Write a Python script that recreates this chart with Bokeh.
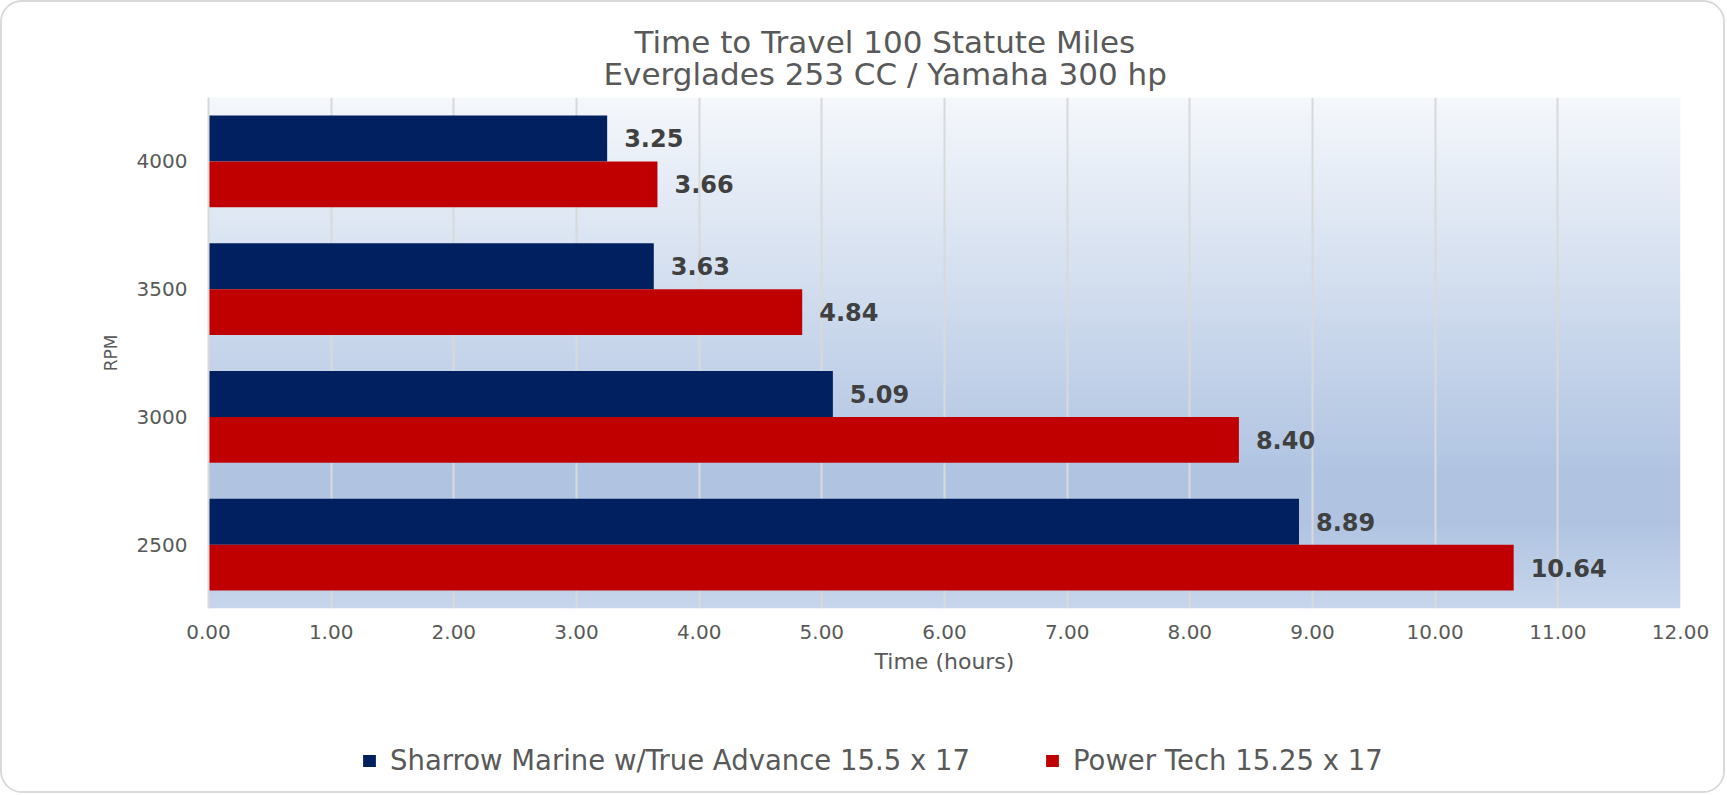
import numpy as np
from bokeh.plotting import figure
from bokeh.layouts import column
from bokeh.models import (ColumnDataSource, LabelSet, Title, Legend, LegendItem,
                          FixedTicker, NumeralTickFormatter, Range1d)
from bokeh.core.properties import value
from bokeh.embed import file_html
from bokeh.resources import INLINE

# ---- data ----
rpm = ["2500", "3000", "3500", "4000"]
sharrow = [8.89, 5.09, 3.63, 3.25]
powertech = [10.64, 8.40, 4.84, 3.66]
series_names = ["Sharrow Marine w/True Advance 15.5 x 17", "Power Tech 15.25 x 17"]
x_ticks = [0, 1, 2, 3, 4, 5, 6, 7, 8, 9, 10, 11, 12]
title_lines = ["Time to Travel 100 Statute Miles", "Everglades 253 CC / Yamaha 300 hp"]

NAVY = "#002060"
RED = "#C00000"
FONT = "DejaVu Sans"
GREY_TXT = "#595959"

W = 1721
H1, H2 = 700, 89
ML, MR, MT = 206, 43, 95
MB = H1 - MT - 511

x0, x1 = 0, 12
y0, y1 = -0.5, len(rpm) - 0.5

p = figure(width=W, height=H1, output_backend="svg", toolbar_location=None,
           x_range=Range1d(x0, x1), y_range=Range1d(y0, y1),
           min_border_left=ML, min_border_right=MR, min_border_top=MT, min_border_bottom=MB)
p.background_fill_color = None
p.border_fill_color = "white"
p.outline_line_color = None

# gradient background of the plot area
stops = [(0.0, (245, 248, 252)), (0.74, (176, 196, 226)), (0.83, (176, 196, 226)), (1.0, (199, 214, 236))]
n = 512
t = np.linspace(1.0, 0.0, n)  # row 0 is bottom
img = np.zeros((n, 1), dtype=np.uint32)
view = img.view(dtype=np.uint8).reshape((n, 1, 4))
sp = [s[0] for s in stops]
for c in range(3):
    view[:, 0, c] = np.interp(t, sp, [s[1][c] for s in stops]).astype(np.uint8)
view[:, 0, 3] = 255
p.image_rgba(image=[img], x=x0, y=y0, dw=x1 - x0, dh=y1 - y0, level="image")

bar_h = 0.3585
idx = np.arange(len(rpm))
src = ColumnDataSource(dict(
    y_s=idx + bar_h / 2, y_p=idx - bar_h / 2,
    sharrow=sharrow, powertech=powertech,
    lab_s=[f"{v:.2f}" for v in sharrow], lab_p=[f"{v:.2f}" for v in powertech],
))
p.hbar(y="y_s", right="sharrow", left=0, height=bar_h, source=src,
       fill_color=NAVY, line_color=None)
p.hbar(y="y_p", right="powertech", left=0, height=bar_h, source=src,
       fill_color=RED, line_color=None)

for ycol, xcol, lcol in [("y_s", "sharrow", "lab_s"), ("y_p", "powertech", "lab_p")]:
    p.add_layout(LabelSet(x=xcol, y=ycol, text=lcol, source=src, x_offset=17,
                          text_baseline="middle", text_align="left",
                          text_font=value(FONT), text_font_style="bold",
                          text_font_size="24px", text_color="#404040"))

# grid
p.ygrid.grid_line_color = None
p.xgrid.grid_line_color = "#d9d9d9"
p.xgrid.grid_line_width = 2
p.xgrid.ticker = FixedTicker(ticks=x_ticks)

# x axis
xa = p.xaxis[0]
xa.ticker = FixedTicker(ticks=x_ticks)
xa.formatter = NumeralTickFormatter(format="0.00")
xa.axis_line_color = None
xa.major_tick_line_color = None
xa.minor_tick_line_color = None
xa.major_tick_out = 0
xa.major_label_standoff = 16
xa.major_label_text_font = FONT
xa.major_label_text_font_size = "20px"
xa.major_label_text_color = GREY_TXT
xa.axis_label = "Time (hours)"
xa.axis_label_text_font = FONT
xa.axis_label_text_font_size = "22px"
xa.axis_label_text_font_style = "normal"
xa.axis_label_text_color = GREY_TXT
xa.axis_label_standoff = 7

# y axis
ya = p.yaxis[0]
ya.ticker = FixedTicker(ticks=list(idx))
ya.major_label_overrides = {int(i): r for i, r in zip(idx, rpm)}
ya.axis_line_color = "#d9d9d9"
ya.axis_line_width = 2
ya.major_tick_line_color = None
ya.minor_tick_line_color = None
ya.major_tick_out = 0
ya.major_label_standoff = 21
ya.major_label_text_font = FONT
ya.major_label_text_font_size = "20px"
ya.major_label_text_color = GREY_TXT
ya.axis_label = "RPM"
ya.axis_label_text_font = FONT
ya.axis_label_text_font_size = "17px"
ya.axis_label_text_font_style = "normal"
ya.axis_label_text_color = GREY_TXT
ya.axis_label_standoff = 13

# titles (second line is added first: it sits nearest to the plot area)
for line, off, so in [(title_lines[1], 395, 9), (title_lines[0], 426, -20)]:
    p.add_layout(Title(text=line, align="left", offset=off, vertical_align="middle",
                       standoff=so, text_font=FONT, text_font_size="31px",
                       text_font_style="normal", text_color=GREY_TXT), "above")

# legend strip (same bars as hidden renderers; only their legend entries show)
p2 = figure(width=W, height=H2, output_backend="svg", toolbar_location=None,
            x_axis_type=None, y_axis_type=None,
            x_range=Range1d(x0, x1), y_range=Range1d(y0, y1),
            min_border_left=ML, min_border_right=MR, min_border_top=0, min_border_bottom=0)
p2.background_fill_color = None
p2.border_fill_color = "white"
p2.outline_line_color = None
k1 = p2.hbar(y="y_s", right="sharrow", left=0, height=bar_h, source=src,
             fill_color=NAVY, line_color=None, visible=False)
k2 = p2.hbar(y="y_p", right="powertech", left=0, height=bar_h, source=src,
             fill_color=RED, line_color=None, visible=False)
legend = Legend(items=[LegendItem(label=series_names[0], renderers=[k1]),
                       LegendItem(label=series_names[1], renderers=[k2])],
                orientation="horizontal", location=(153, 15),
                glyph_width=16, glyph_height=15, label_standoff=13, spacing=74,
                padding=0, margin=0, border_line_color=None, background_fill_alpha=0,
                inactive_fill_alpha=0,
                label_text_font=FONT, label_text_font_size="27.5px",
                label_text_color=GREY_TXT)
p2.add_layout(legend, "center")

layout = column(p, p2, styles={"border": "2px solid #d9d9d9", "border-radius": "22px",
                               "overflow": "hidden"})

open("out.html", "w").write(file_html(layout, INLINE))
